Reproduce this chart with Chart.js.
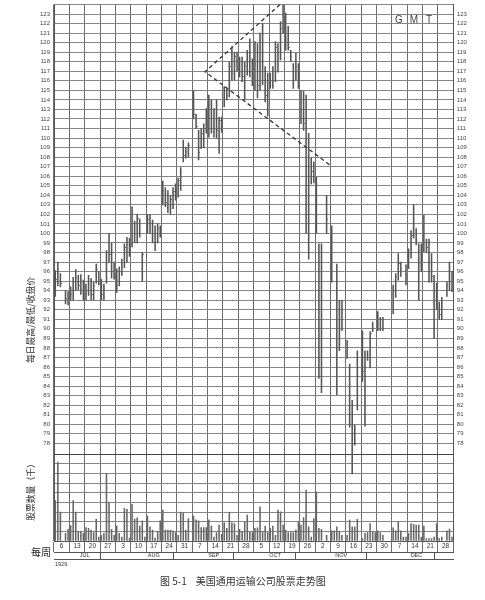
<!DOCTYPE html>
<html>
<head>
<meta charset="utf-8">
<script src="https://cdn.jsdelivr.net/npm/chart.js@4/dist/chart.umd.min.js"></script>
<style>
  body { margin: 0; background: #fff; width: 485px; height: 600px; position: relative; overflow: hidden; }
  #wrap { position: absolute; left: 0; top: 0; width: 485px; height: 562px; }
  .txt { position: absolute; white-space: nowrap; color: #333; font-family: "Noto Sans CJK SC", sans-serif; }
  .vlab { transform: translate(-50%, -50%) rotate(-90deg); font-size: 8.8px; }
  .gmt { font-family: "Liberation Sans", sans-serif; font-size: 10px; color: #444; transform: translate(-50%, -50%); }
</style>
</head>
<body>
<div id="wrap"><canvas id="chart"></canvas></div>
<div class="txt vlab" style="left:30px; top:320px;">每日最高/最低/收盘价</div>
<div class="txt vlab" style="left:30px; top:490px;">股票数量（千）</div>
<div class="txt" style="left:31px; top:544px; font-size:10px; color:#222;">每周</div>
<div class="txt" style="left:55px; top:561px; font-size:5.5px; font-family:'Liberation Sans',sans-serif;">1929</div>
<div class="txt" style="left:160px; top:573px; font-size:10px;">图 5-1&nbsp;&nbsp;&nbsp;&nbsp;美国通用运输公司股票走势图</div>
<div class="txt gmt" style="left:399px; top:19px;">G</div>
<div class="txt gmt" style="left:414px; top:19px;">M</div>
<div class="txt gmt" style="left:429px; top:19px;">T</div>
<script>
// week labels (Saturday dates), six trading days per week
const weekLabels = ['6', '13', '20', '27', '3', '10', '17', '24', '31', '7', '14', '21', '28',
  '5', '12', '19', '26', '2', '9', '16', '23', '30', '7', '14', '21', '28'];
const monthNames = ['JUL', 'AUG', 'SEP', 'OCT', 'NOV', 'DEC'];
const monthEdges = [0, 4, 9, 13, 17, 22, 26];
const monthLabelAt = [2, 6.5, 10.4, 14.4, 18.7, 23.6];

const highs = [
  96.1, 97.0, 95.8, null, 94.0, 93.9,
  94.4, 95.4, 96.2, 95.6, 95.7, 95.1,
  94.7, 95.6, 95.3, 94.9, 96.8, 96.0,
  95.2, 94.7, 98.2, 100.0, 99.0, 97.0,
  96.3, 96.5, 97.3, 98.9, 99.6, 99.5,
  102.8, 101.3, 102.0, 101.5, 98.0, null,
  102.0, 102.0, 101.4, 100.8, 101.0, 100.8,
  105.5, 104.8, 104.5, 104.0, 104.8, 105.2,
  105.8, 106.9, 109.8, 109.0, 109.5, null,
  115.0, 112.5, 110.8, 111.0, 111.5, 113.1,
  114.5, 114.0, 113.1, 114.0, 112.2, 112.2,
  115.4, 115.2, 118.0, 119.6, 119.0, 119.0,
  118.5, 118.5, 118.0, 119.2, 120.4, 118.3,
  120.1, 119.9, 121.0, 122.0, 117.5, 116.8,
  116.8, 117.5, 120.1, 119.9, 122.2, 124.0,
  123.1, 121.7, 119.2, 117.8, 118.9, 117.8,
  115.0, 114.9, 114.5, 110.5, 107.9, 107.5,
  105.9, 98.9, 98.9, null, 104.0, null,
  100.8, null, 96.8, 93.0, 93.0, null,
  88.8, 86.3, 82.5, 79.9, 87.7, null,
  89.8, 87.7, 87.7, 89.7, 90.7, null,
  91.8, 91.2, 91.2, null, null, null,
  94.6, 95.8, 97.9, 97.0, null, 96.7,
  98.4, 100.3, 103.0, 100.5, 98.9, 98.9,
  101.9, 99.4, 99.4, 97.9, 95.6, 94.8,
  92.8, 93.3, null, 94.9, 97.0, 96.0
];
const lows = [
  93.4, 94.5, 94.4, null, 92.6, 92.5,
  93.0, 93.0, 94.0, 94.1, 93.6, 93.0,
  93.0, 93.5, 93.0, 93.0, 94.8, 94.6,
  93.0, 93.0, 94.8, 97.0, 95.3, 95.2,
  93.8, 94.5, 95.6, 96.4, 97.0, 97.6,
  98.6, 99.0, 99.0, 99.6, 95.0, null,
  100.0, 100.0, 99.0, 98.2, 99.0, 99.6,
  103.0, 102.8, 102.2, 102.0, 102.6, 103.5,
  103.8, 104.5, 107.5, 107.9, 108.0, null,
  112.0, 111.0, 107.7, 108.9, 109.0, 110.5,
  110.1, 110.5, 110.1, 110.0, 108.4, 110.6,
  113.3, 114.0, 114.3, 116.1, 116.1, 117.0,
  116.4, 115.9, 114.0, 116.6, 116.4, 115.5,
  115.0, 114.2, 115.0, 115.6, 113.8, 112.3,
  115.2, 115.2, 115.9, 116.9, 118.2, 121.0,
  119.2, 119.2, 118.0, 115.2, 116.1, 115.2,
  111.5, 110.8, 100.0, 97.3, 105.2, 105.3,
  100.0, 84.8, 83.3, null, 100.0, null,
  94.9, null, 83.1, 87.7, 89.8, null,
  86.9, 79.7, 74.8, 77.8, 81.5, null,
  84.5, 79.8, 86.7, 85.9, 89.7, null,
  89.8, 89.8, 89.8, null, null, null,
  91.6, 93.3, 95.1, 95.5, null, 94.6,
  96.3, 97.4, 99.5, 98.8, 93.0, 96.0,
  98.1, 98.0, 94.9, 94.9, 89.0, 92.0,
  91.0, 91.0, null, 93.4, 94.0, 93.9
];
const closes = [
  95.2, 95.8, 94.8, null, 93.2, 93.5,
  93.6, 95.0, 95.4, 94.5, 94.2, 94.6,
  93.8, 95.0, 93.6, 94.5, 96.2, 95.0,
  93.6, 94.2, 98.0, 97.8, 96.0, 96.5,
  94.5, 96.0, 97.0, 98.5, 98.0, 99.2,
  101.0, 100.0, 101.6, 100.0, 97.8, null,
  101.5, 100.4, 100.0, 99.0, 100.5, 100.2,
  104.5, 103.2, 103.0, 103.6, 104.4, 104.8,
  105.5, 106.5, 108.2, 108.6, 109.2, null,
  112.5, 111.2, 108.5, 110.5, 111.0, 112.8,
  113.5, 111.0, 112.5, 110.8, 111.8, 111.5,
  115.0, 114.5, 117.5, 116.8, 118.5, 117.5,
  117.0, 116.5, 117.5, 118.0, 117.0, 116.5,
  119.0, 115.5, 120.0, 116.0, 114.5, 115.0,
  116.0, 117.0, 119.5, 118.0, 121.5, 122.0,
  120.0, 119.5, 118.5, 116.0, 117.5, 116.0,
  112.0, 111.5, 102.0, 106.0, 106.5, 106.0,
  101.0, 86.0, 97.0, null, 101.5, null,
  96.0, null, 86.0, 92.0, 90.5, null,
  87.0, 81.0, 79.0, 79.5, 87.0, null,
  85.5, 87.0, 87.0, 89.5, 90.0, null,
  90.5, 91.0, 90.2, null, null, null,
  94.0, 95.5, 96.8, 96.2, null, 95.0,
  98.0, 99.8, 100.0, 99.0, 96.0, 97.5,
  99.0, 98.5, 96.0, 95.5, 93.0, 92.5,
  91.5, 92.8, null, 94.5, 95.0, 95.5
];
// thousands of shares
const volumes = [
  21, 41, 15, null, 4, 6,
  8, 21, 15, 5, 5, 4,
  7, 6.6, 5.7, 4.4, 11.4, 2,
  3, 4, 35, 20, 6, 3,
  7.8, 4, 2, 17, 16.5, 1.5,
  19, 11.4, 12, 7.8, 10.5, 2,
  13, 7.4, 5.7, 1.5, 5, 10.5,
  16, 5.7, 5.7, 5.7, 5.3, 4.4,
  3, 15, 14.5, 5.7, 11.7, null,
  13, 11, 10.5, 7, 7, 7,
  11, 7.8, 2, 4.4, 8.3, 3.5,
  9.5, 6.6, 15, 9.5, 9.1, 3,
  6, 5, 10, 13.4, 5, 4.4,
  6.6, 6.9, 17.8, 5, 7.8, 4.4,
  6.6, 7.8, 3, 16, 15.2, 8.3,
  5.7, 4.4, 4.4, 4.4, 5.7, 10,
  8.3, 12.2, 26.4, 7.4, 2, 11.7,
  25.5, 6.6, 6, null, 3, null,
  5.3, 5.3, 7.4, 5, 3, null,
  3, 10.9, 7.4, 7.4, 11.2, null,
  1.3, 4, 4.4, 9, 5, 4.4,
  5.3, 4.4, 3, null, null, null,
  6.9, 5.3, 10, 5.3, 2, 2,
  4, 9, 8.6, 8.3, 8.3, 2,
  7.8, 1.3, 1.3, 1.3, 2, 9,
  1.3, 2, null, 5.3, 6.2, 2
];
// dashed wedge drawn on the chart (day index, price)
const trendX = [88.3, 59.0, 107.8];
const trendY = [124.0, 116.95, 107.17];

const priceTicks = [];
for (let v = 78; v <= 124; v++) priceTicks.push(v);
const volTicks = [0, 5, 10, 15, 20, 25, 30, 35, 40, 45];

const nDays = highs.length;
const barData = [], closeData = [], volData = [];
for (let i = 0; i < nDays; i++) {
  if (highs[i] != null) barData.push({ x: i + 0.5, y: [lows[i], highs[i]] });
  if (closes[i] != null) closeData.push({ x: i + 0.5, y: closes[i] });
  if (volumes[i] != null) volData.push({ x: i + 0.5, y: volumes[i] });
}
const trendData = trendX.map((x, i) => ({ x: x, y: trendY[i] }));

// small tick to the right of each bar for the close
const tick = document.createElement('canvas');
tick.width = 3; tick.height = 1;
const tctx = tick.getContext('2d');
tctx.fillStyle = '#777';
tctx.fillRect(2, 0, 1, 1);

const gridCol = '#858585';
const labelFont = { family: 'Liberation Sans', size: 6 };
const noPad = (s) => { s.paddingTop = 0; s.paddingBottom = 0; s.paddingLeft = 0; s.paddingRight = 0; };

new Chart(document.getElementById('chart'), {
  type: 'bar',
  data: {
    datasets: [
      { type: 'bar', data: volData, xAxisID: 'xDay', yAxisID: 'yv', backgroundColor: '#666',
        barThickness: 0.9, grouped: false, borderWidth: 0 },
      { type: 'bar', data: barData, xAxisID: 'xDay', yAxisID: 'y', backgroundColor: '#555',
        barThickness: 0.9, grouped: false, borderWidth: 0 },
      { type: 'scatter', data: closeData, xAxisID: 'xDay', yAxisID: 'y', pointStyle: tick,
        pointRadius: 1.5, pointHoverRadius: 1.5 },
      { type: 'line', data: trendData, xAxisID: 'xDay', yAxisID: 'y', borderColor: '#333',
        borderWidth: 1.3, borderDash: [4, 3], pointRadius: 0, fill: false, tension: 0 }
    ]
  },
  options: {
    responsive: true,
    maintainAspectRatio: false,
    animation: false,
    events: [],
    layout: { padding: { top: 4.5, bottom: 1.5, left: 0, right: 0 } },
    plugins: { legend: { display: false }, tooltip: { enabled: false } },
    scales: {
      xDay: { type: 'linear', position: 'bottom', display: false, min: 0, max: 156, offset: false },
      xWeek: {
        type: 'category', position: 'bottom', labels: weekLabels, offset: true, weight: 0,
        grid: { offset: true, color: '#6e6e6e', tickLength: 11, drawTicks: true },
        border: { display: true, color: '#555' },
        ticks: { autoSkip: false, maxRotation: 0, padding: -9.2, color: '#333',
                 font: { family: 'Liberation Sans', size: 6.5 } },
        afterFit: (s) => { s.height = 11; noPad(s); }
      },
      xMonth: {
        type: 'linear', position: 'bottom', min: 0, max: 26, weight: 1, offset: false,
        afterBuildTicks: (s) => {
          s.ticks = monthEdges.concat(monthLabelAt).sort((a, b) => a - b).map(v => ({ value: v }));
        },
        grid: { drawOnChartArea: false, tickLength: 7.5,
                color: (c) => (c.tick && monthEdges.includes(c.tick.value)) ? '#555' : 'rgba(0,0,0,0)' },
        border: { display: true, color: '#555' },
        ticks: { autoSkip: false, maxRotation: 0, padding: -7.3, color: '#333',
                 font: { family: 'Liberation Sans', size: 5.5 },
                 callback: (v) => { const i = monthLabelAt.indexOf(v); return i < 0 ? '' : monthNames[i]; } },
        afterFit: (s) => { s.height = 7.5; noPad(s); }
      },
      xEnd: {
        type: 'linear', position: 'bottom', min: 0, max: 26, weight: 2,
        grid: { display: false, drawTicks: false }, ticks: { display: false },
        border: { display: true, color: '#555' },
        afterFit: (s) => { s.height = 1; noPad(s); }
      },
      y: {
        type: 'linear', position: 'left', weight: 1, min: 67.76, max: 124, offset: false,
        afterBuildTicks: (s) => { s.ticks = priceTicks.map(v => ({ value: v })); },
        grid: { color: gridCol, drawTicks: false },
        border: { display: true, color: '#555' },
        ticks: { autoSkip: false, padding: 4, color: '#444', font: labelFont,
                 callback: (v) => (v >= 78 && v <= 123) ? v : '' },
        afterFit: (s) => { s.width = 54; noPad(s); }
      },
      yv: {
        type: 'linear', position: 'left', weight: 0, min: 0, max: 278.7, offset: false,
        afterBuildTicks: (s) => { s.ticks = volTicks.map(v => ({ value: v })); },
        grid: { color: (c) => (c.tick && c.tick.value === 45) ? '#444' : gridCol, drawTicks: false },
        border: { display: false },
        ticks: { autoSkip: false, padding: 4, color: '#444', font: labelFont,
                 callback: (v) => (v >= 10 && v % 10 === 0) ? v : '' },
        afterFit: (s) => { s.width = 0; noPad(s); }
      },
      yR: {
        type: 'linear', position: 'right', weight: 1, min: 67.76, max: 124, offset: false,
        afterBuildTicks: (s) => { s.ticks = priceTicks.map(v => ({ value: v })); },
        grid: { drawOnChartArea: false, drawTicks: false },
        border: { display: true, color: '#555' },
        ticks: { autoSkip: false, padding: 3.5, color: '#444', font: labelFont,
                 callback: (v) => (v >= 78 && v <= 123) ? v : '' },
        afterFit: (s) => { s.width = 31.7; noPad(s); }
      },
      yvR: {
        type: 'linear', position: 'right', weight: 0, min: 0, max: 278.7, offset: false,
        afterBuildTicks: (s) => { s.ticks = volTicks.map(v => ({ value: v })); },
        grid: { drawOnChartArea: false, drawTicks: false },
        border: { display: false },
        ticks: { autoSkip: false, padding: 3.5, color: '#444', font: labelFont,
                 callback: (v) => (v >= 10 && v % 10 === 0) ? v : '' },
        afterFit: (s) => { s.width = 0; noPad(s); }
      }
    }
  }
});
</script>
</body>
</html>
